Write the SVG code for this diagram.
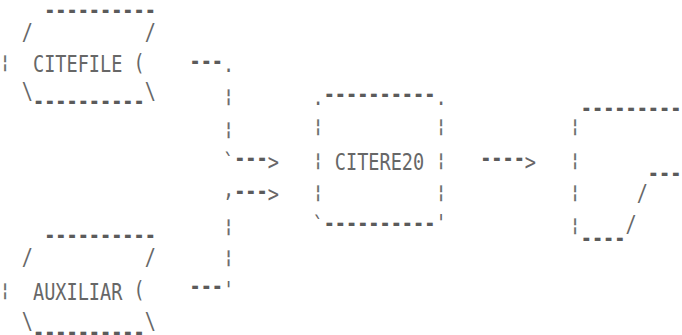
<svg xmlns="http://www.w3.org/2000/svg" width="682" height="335" viewBox="0 0 682 335">
<style>
text{font-family:"DejaVu Sans Mono","Liberation Mono",monospace;text-anchor:middle}
.t{font-size:23.2px;fill:#666666}
.d{font-size:23.2px;fill:#5a5a5a;font-weight:bold}
.b{font-size:18px;fill:#6a6a6a;font-weight:bold;stroke:#6a6a6a;stroke-width:0.3}
</style>
<rect width="682" height="335" fill="#ffffff"/>
<g transform="scale(0.8,1)" opacity="0.99">
<g id="citefile">
<text class="d" x="125.04" y="18.3">----------</text>
<text class="t" x="34.2" y="40">/</text>
<text class="t" x="187.93" y="40">/</text>
<text class="b" x="6.25" y="68">¦</text>
<text class="t" x="97.09" y="72">CITEFILE</text>
<text class="t" x="173.95" y="71">(</text>
<text class="t" x="34.2" y="99">\</text>
<text class="d" x="111.06" y="109">----------</text>
<text class="t" x="187.93" y="99">\</text>
</g>
<g id="auxiliar">
<text class="d" x="125.04" y="243">----------</text>
<text class="t" x="34.2" y="265">/</text>
<text class="t" x="187.93" y="265">/</text>
<text class="b" x="6.25" y="295.7">¦</text>
<text class="t" x="97.09" y="300">AUXILIAR</text>
<text class="t" x="173.95" y="298.5">(</text>
<text class="t" x="34.2" y="329">\</text>
<text class="d" x="111.06" y="340">----------</text>
<text class="t" x="187.93" y="329">\</text>
</g>
<g id="citere20">
<text class="t" x="397.55" y="105">.</text>
<text class="d" x="474.41" y="102.5">----------</text>
<text class="t" x="551.28" y="105">.</text>
<text class="b" x="397.55" y="132.2">¦</text>
<text class="b" x="551.28" y="132.2">¦</text>
<text class="b" x="397.55" y="165.7">¦</text>
<text class="t" x="474.41" y="170">CITERE20</text>
<text class="b" x="551.28" y="165.7">¦</text>
<text class="b" x="397.55" y="197.7">¦</text>
<text class="b" x="551.28" y="197.7">¦</text>
<text class="t" x="397.55" y="233.5">`</text>
<text class="d" x="474.41" y="231.3">----------</text>
<text class="t" x="551.28" y="231.5">'</text>
</g>
<g id="output">
<text class="d" x="788.85" y="116.3">---------</text>
<text class="b" x="718.98" y="132.2">¦</text>
<text class="b" x="718.98" y="166.2">¦</text>
<text class="d" x="830.78" y="181.3">---</text>
<text class="b" x="718.98" y="198.2">¦</text>
<text class="t" x="802.83" y="201.5">/</text>
<text class="b" x="718.98" y="230.7">¦</text>
<text class="t" x="788.85" y="232.5">/</text>
<text class="d" x="753.91" y="246.3">----</text>
</g>
<g id="connectors">
<text class="d" x="257.8" y="69.3">---</text>
<text class="t" x="285.75" y="72">.</text>
<text class="b" x="285.75" y="101.7">¦</text>
<text class="b" x="285.75" y="134.7">¦</text>
<text class="t" x="285.75" y="170">`</text>
<text class="d" x="313.7" y="166.5">---</text>
<text class="t" x="341.65" y="170">&gt;</text>
<text class="t" x="285.75" y="197">,</text>
<text class="d" x="313.7" y="199.3">---</text>
<text class="t" x="341.65" y="202">&gt;</text>
<text class="b" x="285.75" y="231.7">¦</text>
<text class="b" x="285.75" y="262.7">¦</text>
<text class="d" x="257.8" y="294.5">---</text>
<text class="t" x="285.75" y="298">'</text>
<text class="d" x="628.14" y="166.3">----</text>
<text class="t" x="663.08" y="170">&gt;</text>
</g>
</g>
</svg>
